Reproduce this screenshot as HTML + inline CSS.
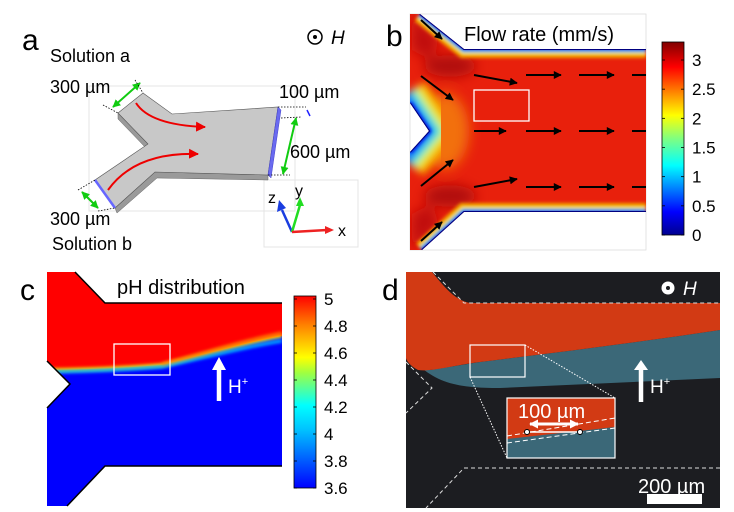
<!DOCTYPE html>
<html><head><meta charset="utf-8"><style>
html,body{margin:0;padding:0;background:#fff;}
svg{display:block;font-family:"Liberation Sans",Arial,sans-serif;}
</style></head><body>
<svg width="734" height="512" viewBox="0 0 734 512">
<defs>
<marker id="ar" viewBox="0 0 10 10" refX="9" refY="5" markerWidth="5" markerHeight="5" orient="auto"><path d="M0,0L10,5L0,10z" fill="#e00"/></marker>
<marker id="ag" viewBox="0 0 10 10" refX="9" refY="5" markerWidth="4" markerHeight="4" orient="auto-start-reverse"><path d="M0,0L10,5L0,10z" fill="#1c1"/></marker>
<marker id="ak" viewBox="0 0 10 10" refX="9" refY="5" markerWidth="5" markerHeight="4" orient="auto"><path d="M0,0L10,5L0,10z" fill="#000"/></marker>
<marker id="aw" viewBox="0 0 10 10" refX="9" refY="5" markerWidth="3" markerHeight="3" orient="auto-start-reverse"><path d="M0,0L10,5L0,10z" fill="#fff"/></marker>
<clipPath id="cb"><path d="M410,14 L420,14 L464,49 L646,49 L646,212 L464,212 L422,250 L410,250 L410,152 L429,131 L410,103Z"/></clipPath>
<clipPath id="cc"><path d="M47,272 L75,272 L105,303 L282,303 L282,466 L105,466 L67,506 L47,506 L47,408 L70,384 L47,361Z"/></clipPath>
<filter id="bl" x="-100%" y="-100%" width="300%" height="300%"><feGaussianBlur stdDeviation="6"/></filter>
<filter id="bl2" x="-20%" y="-50%" width="140%" height="200%"><feGaussianBlur stdDeviation="1.5"/></filter>
<filter id="bl3" x="-50%" y="-50%" width="200%" height="200%"><feGaussianBlur stdDeviation="4"/></filter>
<linearGradient id="jet" x1="0" y1="1" x2="0" y2="0">
<stop offset="0" stop-color="#00008f"/><stop offset="0.12" stop-color="#0000ff"/><stop offset="0.36" stop-color="#00ffff"/><stop offset="0.5" stop-color="#80ff80"/><stop offset="0.62" stop-color="#ffff00"/><stop offset="0.87" stop-color="#ff0000"/><stop offset="1" stop-color="#800000"/></linearGradient>
<linearGradient id="jet2" x1="0" y1="1" x2="0" y2="0">
<stop offset="0" stop-color="#0000ff"/><stop offset="0.3" stop-color="#00c0ff"/><stop offset="0.43" stop-color="#00ffff"/><stop offset="0.6" stop-color="#a0ff40"/><stop offset="0.68" stop-color="#ffff00"/><stop offset="0.85" stop-color="#ff8000"/><stop offset="1" stop-color="#ff0000"/></linearGradient>
</defs>

<!-- Panel a -->
<g>
<text x="22" y="50" font-size="30">a</text>
<text x="50" y="62" font-size="18">Solution a</text>
<circle cx="315" cy="37" r="7" fill="none" stroke="#000" stroke-width="1.5"/>
<circle cx="315" cy="37" r="2" fill="#000"/>
<text x="331" y="44" font-size="19" font-style="italic">H</text>
<rect x="89" y="86" width="206" height="125" fill="none" stroke="#e4e4e4"/>
<rect x="264" y="180" width="94" height="67" fill="none" stroke="#e4e4e4"/>
<path d="M115,208 L155,172 L268,175 L268,180 L157,178 L117,213Z" fill="#9a9a9a" stroke="#666" stroke-width="0.5"/>
<path d="M118,113 L148,144 L145,147 L118,119Z" fill="#9a9a9a" stroke="#666" stroke-width="0.5"/>
<path d="M118,113 L143,93 L172,114 L278,107 L268,175 L155,172 L115,208 L95,180 L148,144 Z" fill="#c8c8c8" stroke="#555" stroke-width="0.6"/>
<path d="M278,107 L281,110 L271,178 L268,175Z" fill="#6a6af0" stroke="#44c" stroke-width="0.5"/>
<path d="M95,180 L115,208" stroke="#66f" stroke-width="2.5"/>
<path d="M136,103 Q150,125 205,127" fill="none" stroke="#e00" stroke-width="2" marker-end="url(#ar)"/>
<path d="M108,190 Q135,152 198,154" fill="none" stroke="#e00" stroke-width="2" marker-end="url(#ar)"/>
<path d="M140,83 L113,107" stroke="#1c1" stroke-width="2" marker-start="url(#ag)" marker-end="url(#ag)"/>
<path d="M296,118 L283,174" stroke="#1c1" stroke-width="2" marker-start="url(#ag)" marker-end="url(#ag)"/>
<path d="M82,192 L98,208" stroke="#1c1" stroke-width="2" marker-start="url(#ag)" marker-end="url(#ag)"/>
<g stroke="#000" stroke-width="0.8" stroke-dasharray="1.5,1.5" fill="none">
<path d="M135,80 L143,93 M103,105 L118,113 M278,107 L306,107 M268,175 L290,175 M281,118 L301,117 M78,190 L95,180 M98,211 L115,208"/></g>
<path d="M307,110 L310,116" stroke="#22f" stroke-width="1.5"/>
<text x="50" y="93" font-size="18">300 µm</text>
<text x="279" y="98" font-size="18">100 µm</text>
<text x="290" y="158" font-size="18">600 µm</text>
<text x="50" y="225" font-size="18">300 µm</text>
<text x="52" y="250" font-size="18">Solution b</text>
<g>
<path d="M292,232 L282,210" stroke="#1a3de0" stroke-width="2.5"/>
<path d="M277,212 L286,208 L279,200Z" fill="#1a3de0"/>
<path d="M292,232 L300,205" stroke="#2d2" stroke-width="2.5"/>
<path d="M296,206 L304,206 L300,197Z" fill="#2d2"/>
<path d="M292,232 L327,230" stroke="#e22" stroke-width="2.5"/>
<path d="M325,226 L334,230 L325,234Z" fill="#e22"/>
<text x="268" y="203" font-size="16">z</text><text x="295" y="196" font-size="16">y</text><text x="338" y="236" font-size="16">x</text>
</g>
</g>

<!-- Panel b -->
<g>
<text x="386" y="46" font-size="30">b</text>
<rect x="410" y="14" width="236" height="236" fill="none" stroke="#ddd" stroke-width="0.8"/>
<g clip-path="url(#cb)">
<rect x="405" y="10" width="250" height="245" fill="#e8200c"/>
<g filter="url(#bl)">
<ellipse cx="450" cy="66" rx="26" ry="11" fill="#b00808"/>
<ellipse cx="450" cy="196" rx="26" ry="11" fill="#b00808"/>
<path d="M412,14 L440,40 L430,60 L412,50Z" fill="#c00a0a"/>
<path d="M412,250 L440,224 L430,204 L412,214Z" fill="#c00a0a"/>
<ellipse cx="445" cy="131" rx="24" ry="38" fill="#f27010"/>
</g>
<g fill="none" filter="url(#bl3)">
<path d="M405,95 L429,131 L405,160" stroke="#f8b000" stroke-width="48"/>
<path d="M405,95 L429,131 L405,160" stroke="#e8f020" stroke-width="34"/>
<path d="M405,95 L429,131 L405,160" stroke="#30e8d8" stroke-width="22"/>
<path d="M405,95 L429,131 L405,160" stroke="#1060ff" stroke-width="10"/>
</g>
<g fill="none" filter="url(#bl2)">
<path d="M420,14 L464,49 L646,49 M646,212 L464,212 L422,250" stroke="#f0a000" stroke-width="18"/>
<path d="M420,14 L464,49 L646,49 M646,212 L464,212 L422,250" stroke="#ffe000" stroke-width="11"/>
<path d="M420,14 L464,49 L646,49 M646,212 L464,212 L422,250" stroke="#20d0ff" stroke-width="7"/>
<path d="M420,14 L464,49 L646,49 M646,212 L464,212 L422,250 M410,103 L429,131 L410,152" stroke="#0010e0" stroke-width="4"/>
</g>
<path d="M420,14 L464,49 L646,49 M646,212 L464,212 L422,250 M410,103 L429,131 L410,152" stroke="#000080" stroke-width="2" fill="none"/>
</g>
<rect x="474" y="90" width="55" height="31" fill="none" stroke="#fff" stroke-width="1.3"/>
<g stroke="#000" stroke-width="2" marker-end="url(#ak)">
<path d="M421,20 L442,39"/><path d="M421,76 L453,100"/><path d="M421,186 L453,160"/><path d="M421,241 L442,222"/>
<path d="M474,75 L517,83"/><path d="M474,131 L506,131"/><path d="M474,187 L517,179"/>
<path d="M526,75 L561,75"/><path d="M579,75 L614,75"/><path d="M526,131 L561,131"/><path d="M579,131 L614,131"/><path d="M526,187 L561,187"/><path d="M579,187 L614,187"/>
</g>
<g stroke="#000" stroke-width="2"><path d="M632,75 L646,75 M632,131 L646,131 M632,187 L646,187"/></g>
<text x="464" y="41" font-size="20">Flow rate (mm/s)</text>
<rect x="662" y="42" width="22" height="193" fill="url(#jet)" stroke="#000" stroke-width="0.8"/>
<g id="cbbTicks"></g>
</g>

<!-- Panel c -->
<g>
<text x="20" y="300" font-size="30">c</text>
<g clip-path="url(#cc)">
<rect x="40" y="265" width="250" height="250" fill="#0000ff"/>
<path d="M40,265 L290,265 L290,336 L282,336 C250,342 215,352 162,365 C110,369 70,370 40,370Z" fill="#ff0000"/>
<path d="M282,336 C250,342 215,352 162,365 C110,369 70,370 40,370" fill="none" stroke="#ffff00" stroke-width="3" filter="url(#bl2)"/>
<path d="M282,341 C250,346 215,355 162,367 C110,371 70,372 40,372" fill="none" stroke="#00e0ff" stroke-width="2.5" filter="url(#bl2)"/>
<path d="M282,333 C250,339 215,350 162,364" fill="none" stroke="#ff8000" stroke-width="2.5" filter="url(#bl2)"/>
</g>
<path d="M75,272 L105,303 L282,303 M282,466 L105,466 L67,506 M47,361 L70,384 L47,408" fill="none" stroke="#000" stroke-width="1.5"/>
<rect x="114" y="344" width="56" height="31" fill="none" stroke="#fff" stroke-width="1.3"/>
<path d="M219,401 L219,368" stroke="#fff" stroke-width="4.5"/>
<path d="M212,370 L219,357 L226,370Z" fill="#fff"/>
<text x="228" y="393" font-size="19" fill="#fff">H<tspan font-size="11" dy="-8">+</tspan></text>
<text x="117" y="294" font-size="20">pH distribution</text>
<rect x="294" y="296" width="22" height="192" fill="url(#jet2)" stroke="#000" stroke-width="0.8"/>
<g id="cbcTicks"></g>
</g>

<!-- Panel d -->
<g>
<text x="382" y="300" font-size="30">d</text>
<rect x="406" y="272" width="314" height="236" fill="#1c1d21"/>
<path d="M406,350 C430,385 460,388 500,388 L720,378 L720,330 C640,342 560,352 480,362 L430,370 Z" fill="#3b6878"/>
<path d="M406,272 L432,272 C445,288 455,300 470,303 L720,303 L720,330 C640,342 560,352 480,362 C450,366 430,372 418,370 C410,366 406,360 406,358Z" fill="#d23a14"/>
<g stroke="#ddd" stroke-width="1" stroke-dasharray="4,3" fill="none">
<path d="M433,272 L464,303 L720,303"/><path d="M406,362 L432,388 L406,413"/><path d="M720,468 L464,468 L426,508"/></g>
<rect x="470" y="345" width="55" height="32" fill="none" stroke="#fff" stroke-width="1.2"/>
<g stroke="#fff" stroke-width="1" stroke-dasharray="1.5,1.5"><path d="M525,345 L615,398 M470,377 L507,458"/></g>
<g>
<rect x="507" y="398" width="108" height="60" fill="#3b6878"/>
<path d="M507,398 L615,398 L615,427 L507,439Z" fill="#d23a14"/>
<rect x="507" y="398" width="108" height="60" fill="none" stroke="#fff" stroke-width="1.2"/>
<path d="M507,436 L615,418 M507,443 L615,428" stroke="#fff" stroke-width="1" stroke-dasharray="5,3"/>
<path d="M527,432 L580,432" stroke="#fff" stroke-width="1.5"/>
<circle cx="527" cy="432" r="2.5" fill="#fff" stroke="#000"/><circle cx="580" cy="432" r="2.5" fill="#fff" stroke="#000"/>
<path d="M530,424 L578,424" stroke="#fff" stroke-width="3" marker-start="url(#aw)" marker-end="url(#aw)"/>
<text x="518" y="418" font-size="20" fill="#fff">100 µm</text>
</g>
<path d="M641,402 L641,368" stroke="#fff" stroke-width="4.5"/>
<path d="M634,370 L641,360 L648,370Z" fill="#fff"/>
<text x="650" y="393" font-size="19" fill="#fff">H<tspan font-size="11" dy="-8">+</tspan></text>
<circle cx="668" cy="288" r="6.5" fill="#fff"/>
<circle cx="668" cy="288" r="2" fill="#1c1d21"/>
<text x="683" y="295" font-size="19" font-style="italic" fill="#fff">H</text>
<text x="638" y="493" font-size="20" fill="#fff">200 µm</text>
<rect x="647" y="494" width="55" height="10" fill="#fff"/>
</g>
</svg>
<script>
const flowTicks = [0, 0.5, 1, 1.5, 2, 2.5, 3];
const flowTickLabels = ["0", "0.5", "1", "1.5", "2", "2.5", "3"];
const phTicks = [3.6, 3.8, 4.0, 4.2, 4.4, 4.6, 4.8, 5.0];
const phTickLabels = ["3.6", "3.8", "4", "4.2", "4.4", "4.6", "4.8", "5"];
const NS = "http://www.w3.org/2000/svg";
function yFlow(v){ return 235 - v * (175/3); }
function yPh(v){ return 488 - (v - 3.6) * (189/1.4); }
function drawTicks(gid, ticks, labels, yf, x0, x1){
  const g = document.getElementById(gid);
  ticks.forEach((t,i)=>{
    const y = yf(t);
    const l1 = document.createElementNS(NS,'line');
    l1.setAttribute('x1',x0); l1.setAttribute('x2',x0+3); l1.setAttribute('y1',y); l1.setAttribute('y2',y);
    l1.setAttribute('stroke','#000'); l1.setAttribute('stroke-width','0.8');
    
    
    g.appendChild(l1);
    const l2 = document.createElementNS(NS,'line');
    l2.setAttribute('x1',x1-3); l2.setAttribute('x2',x1); l2.setAttribute('y1',y); l2.setAttribute('y2',y);
    l2.setAttribute('stroke','#000'); l2.setAttribute('stroke-width','0.8');
    g.appendChild(l2);
    const tx = document.createElementNS(NS,'text');
    tx.setAttribute('x', x1+8); tx.setAttribute('y', y+6);
    tx.setAttribute('font-size','17');
    
    
    tx.textContent = labels[i];
    g.appendChild(tx);
  });
}
drawTicks('cbbTicks', flowTicks, flowTickLabels, yFlow, 662, 684);
drawTicks('cbcTicks', phTicks, phTickLabels, yPh, 294, 316);
</script>
</body></html>
